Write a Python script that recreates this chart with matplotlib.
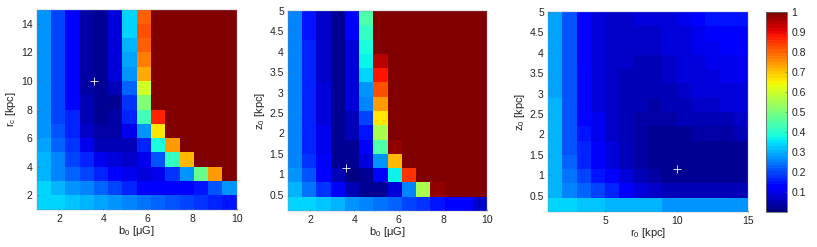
import numpy as np
import matplotlib
matplotlib.use('Agg')
import matplotlib.pyplot as plt

plt.rcParams['font.family'] = ['Liberation Sans', 'DejaVu Sans']
plt.rcParams['mathtext.fontset'] = 'custom'
plt.rcParams['mathtext.rm'] = 'Liberation Sans'
plt.rcParams['mathtext.default'] = 'regular'

W = 817.0
H = 247.0

# b0 vs rc, top row first
panel1 = [
    [.27,.20,.11,.035,.02,.08,.33,.81,1,1,1,1,1,1],
    [.27,.20,.11,.035,.02,.08,.34,.82,1,1,1,1,1,1],
    [.27,.20,.11,.035,.02,.08,.31,.81,1,1,1,1,1,1],
    [.27,.20,.11,.035,.02,.08,.29,.77,1,1,1,1,1,1],
    [.27,.20,.11,.035,.02,.08,.27,.72,1,1,1,1,1,1],
    [.27,.19,.12,.04,.02,.05,.23,.60,1,1,1,1,1,1],
    [.27,.19,.14,.05,.02,.03,.18,.50,1,1,1,1,1,1],
    [.28,.20,.16,.06,.03,.04,.16,.43,.87,1,1,1,1,1],
    [.28,.21,.17,.07,.04,.04,.10,.28,.66,1,1,1,1,1],
    [.29,.23,.18,.10,.06,.05,.05,.17,.38,.74,1,1,1,1],
    [.31,.25,.20,.16,.10,.08,.07,.10,.21,.41,.71,1,1,1],
    [.31,.26,.23,.20,.16,.11,.10,.08,.10,.18,.28,.48,.74,1],
    [.33,.31,.28,.26,.22,.19,.16,.12,.11,.11,.11,.15,.21,.28],
    [.34,.34,.32,.31,.29,.28,.26,.24,.23,.21,.20,.18,.17,.15],
]

# b0 vs z0
panel2 = [
    [.26,.15,.07,.02,.11,.44,1,1,1,1,1,1,1,1],
    [.26,.15,.07,.02,.11,.41,1,1,1,1,1,1,1,1],
    [.26,.16,.07,.02,.09,.38,1,1,1,1,1,1,1,1],
    [.26,.16,.07,.02,.09,.36,.95,1,1,1,1,1,1,1],
    [.26,.16,.07,.02,.09,.33,.88,1,1,1,1,1,1,1],
    [.26,.16,.08,.02,.08,.28,.82,1,1,1,1,1,1,1],
    [.26,.16,.08,.02,.08,.25,.74,1,1,1,1,1,1,1],
    [.26,.16,.08,.02,.06,.20,.66,1,1,1,1,1,1,1],
    [.26,.17,.10,.02,.05,.15,.55,1,1,1,1,1,1,1],
    [.26,.17,.10,.03,.03,.11,.44,.97,1,1,1,1,1,1],
    [.26,.18,.11,.03,.02,.08,.27,.71,1,1,1,1,1,1],
    [.27,.21,.12,.05,.01,.03,.14,.37,.85,1,1,1,1,1],
    [.30,.24,.18,.11,.06,.03,.03,.09,.25,.56,.98,1,1,1],
    [.34,.34,.32,.30,.28,.26,.24,.23,.20,.18,.15,.12,.11,.07],
]

# r0 vs z0
panel3 = [
    [.29,.21,.12,.08,.07,.07,.08,.08,.09,.10,.11,.15,.15,.15],
    [.29,.21,.12,.09,.07,.07,.07,.07,.08,.09,.10,.11,.11,.11],
    [.29,.21,.12,.09,.07,.07,.07,.07,.08,.09,.10,.10,.11,.11],
    [.29,.21,.12,.09,.07,.07,.06,.06,.07,.08,.09,.10,.10,.10],
    [.29,.21,.13,.09,.07,.06,.06,.06,.07,.08,.08,.09,.10,.10],
    [.29,.21,.13,.09,.07,.06,.05,.05,.06,.07,.08,.08,.09,.09],
    [.30,.21,.13,.09,.07,.06,.05,.04,.05,.06,.07,.07,.08,.09],
    [.30,.21,.14,.10,.07,.06,.04,.04,.04,.05,.06,.06,.06,.07],
    [.30,.21,.15,.10,.07,.05,.04,.03,.03,.03,.04,.04,.04,.05],
    [.30,.21,.16,.11,.08,.05,.04,.03,.03,.02,.02,.02,.02,.03],
    [.30,.22,.17,.12,.09,.06,.04,.03,.02,.02,.02,.02,.02,.02],
    [.30,.24,.19,.15,.11,.08,.05,.04,.03,.02,.02,.02,.02,.02],
    [.31,.26,.23,.20,.16,.12,.08,.07,.06,.05,.05,.05,.05,.05],
    [.34,.34,.32,.32,.30,.30,.30,.30,.28,.28,.28,.28,.28,.28],
]

best_x = [3.6, 3.6, 10.0]
best_y = [10.0, 1.15, 1.15]

xlims = [(1, 10), (1, 10), (1, 15)]
ylims = [(1, 15), (0.1, 5), (0.1, 5)]
xticks = [[2, 4, 6, 8, 10], [2, 4, 6, 8, 10], [5, 10, 15]]
yticks = [[2, 4, 6, 8, 10, 12, 14], [0.5, 1, 1.5, 2, 2.5, 3, 3.5, 4, 4.5, 5], [0.5, 1, 1.5, 2, 2.5, 3, 3.5, 4, 4.5, 5]]
ylabs_z = ['0.5', '1', '1.5', '2', '2.5', '3', '3.5', '4', '4.5', '5']
xnames = ['b$_0$ [\u03bcG]', 'b$_0$ [\u03bcG]', 'r$_0$ [kpc]']
ynames = ['r$_c$ [kpc]', 'z$_0$ [kpc]', 'z$_0$ [kpc]']
cbar_ticks = [.1, .2, .3, .4, .5, .6, .7, .8, .9, 1]
cbar_labels = ['0.1', '0.2', '0.3', '0.4', '0.5', '0.6', '0.7', '0.8', '0.9', '1']

boxes = [(36.7, 9.5, 200, 200), (288, 11, 199.3, 200), (548, 12, 200, 200)]
cmap = plt.get_cmap('jet', 64)
edge = '#666666'

fig = plt.figure(figsize=(W / 100, H / 100), dpi=100)

for i, data in enumerate([panel1, panel2, panel3]):
    l, t, w, h = boxes[i]
    ax = fig.add_axes([l / W, 1 - (t + h) / H, w / W, h / H])
    z = np.array(data)[::-1]
    xe = np.linspace(xlims[i][0], xlims[i][1], z.shape[1] + 1)
    ye = np.linspace(ylims[i][0], ylims[i][1], z.shape[0] + 1)
    m = ax.pcolormesh(xe, ye, z, cmap=cmap, vmin=0, vmax=1, rasterized=True)
    ax.plot(best_x[i], best_y[i], '+', color='white', ms=5.5, mew=0.6)
    ax.set_xlim(xlims[i])
    ax.set_ylim(ylims[i])
    ax.set_xticks(xticks[i])
    ax.set_yticks(yticks[i])
    if i > 0:
        ax.set_yticklabels(ylabs_z)
    ax.tick_params(direction='in', length=1.5, width=0.4, color=edge, labelsize=7.5, pad=3, labelcolor='#222222')
    for s in ax.spines.values():
        s.set_linewidth(0.3)
        s.set_color('#8888aa')
    ax.set_xlabel(xnames[i], fontsize=8, labelpad=0, color='#222222')
    ax.set_ylabel(ynames[i], fontsize=8, labelpad=2, color='#222222')

cax = fig.add_axes([765.7 / W, 1 - 212 / H, 21.6 / W, 200 / H])
cb = fig.colorbar(m, cax=cax)
cb.set_ticks(cbar_ticks)
cb.set_ticklabels(cbar_labels)
cb.ax.tick_params(direction='in', length=1.5, width=0.4, color=edge, labelsize=7.5, pad=3, labelcolor='#222222')
cb.outline.set_linewidth(0.6)
cb.outline.set_edgecolor(edge)

fig.savefig('out.png', dpi=100)
